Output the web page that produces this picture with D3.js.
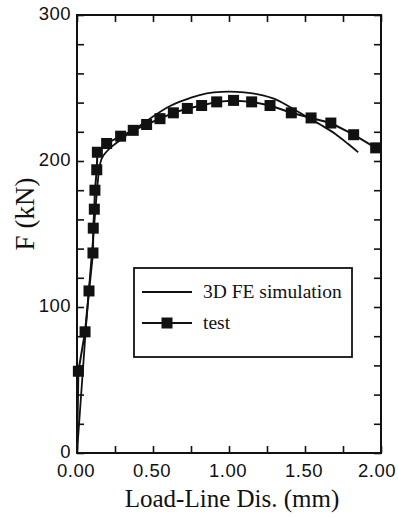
<!DOCTYPE html>
<html>
<head>
<meta charset="utf-8">
<script src="https://cdn.jsdelivr.net/npm/d3@7"></script>
<style>
  body { margin: 0; background: #fff; }
  svg { display: block; }
  .tick-label { font-family: "Liberation Sans", Arial, sans-serif; font-size: 18.5px; fill: #111; letter-spacing: 0.5px; }
  .serif { font-family: "Liberation Serif", "Times New Roman", serif; fill: #111; }
</style>
</head>
<body>
<div id="chart"></div>
<script>
// test data (mm, kN)
var testDisp  = [0.009, 0.053, 0.079, 0.105, 0.107, 0.114, 0.118, 0.130, 0.134, 0.195, 0.287, 0.370, 0.458, 0.546, 0.634, 0.726, 0.820, 0.919, 1.030, 1.149, 1.270, 1.410, 1.540, 1.670, 1.820, 1.965];
var testForce = [56, 83, 111, 137, 154, 167, 180, 194, 206, 212, 217, 221, 225, 229, 233, 236, 238, 240.5, 241.5, 240.5, 238, 233, 229.5, 226, 218, 209];

// 3D FE simulation curve
var simDisp  = [0, 0.06, 0.11, 0.13, 0.145, 0.16, 0.20, 0.28, 0.37, 0.48, 0.60, 0.70, 0.80, 0.90, 1.00, 1.10, 1.20, 1.30, 1.40, 1.50, 1.60, 1.70, 1.78, 1.85];
var simForce = [0, 88, 152, 178, 194, 201, 207, 214, 221, 229, 237, 241.5, 245, 247, 247.5, 247, 245.5, 242.5, 237, 231, 225, 218.5, 212, 206];

var xTickLabels = [0, 0.5, 1.0, 1.5, 2.0];
var yTickLabels = [0, 100, 200, 300];
var legendLabels = ["3D FE simulation", "test"];

var W = 398, H = 518;
var margin = {left: 77, right: 17, top: 15, bottom: 65};
var innerW = W - margin.left - margin.right;
var innerH = H - margin.top - margin.bottom;

var svg = d3.select('#chart').append('svg')
    .attr('width', W).attr('height', H);

var g = svg.append('g')
    .attr('transform', 'translate(' + margin.left + ',' + margin.top + ')');

var x = d3.scaleLinear().domain([0, 2]).range([0, innerW]);
var y = d3.scaleLinear().domain([0, 300]).range([innerH, 0]);

var xMinor = d3.range(0, 2.001, 0.25);
var yMinor = d3.range(0, 300.1, 20);

// inward ticks on all four sides
function styleAxis(sel){
    sel.select('.domain').remove();
    sel.selectAll('line').attr('stroke', '#111').attr('stroke-width', 1.6);
}
g.append('g').attr('transform', 'translate(0,' + innerH + ')')
    .call(d3.axisBottom(x).tickValues(xMinor).tickSize(-7).tickFormat(''))
    .call(styleAxis);
g.append('g')
    .call(d3.axisTop(x).tickValues(xMinor).tickSize(-7).tickFormat(''))
    .call(styleAxis);
g.append('g')
    .call(d3.axisLeft(y).tickValues(yMinor).tickSize(-7).tickFormat(''))
    .call(styleAxis);
g.append('g').attr('transform', 'translate(' + innerW + ',0)')
    .call(d3.axisRight(y).tickValues(yMinor).tickSize(-7).tickFormat(''))
    .call(styleAxis);

// frame
g.append('rect')
    .attr('width', innerW).attr('height', innerH)
    .attr('fill', 'none').attr('stroke', '#111').attr('stroke-width', 2);

// tick labels (last one pulled in so it stays on the page)
g.selectAll('.xl').data(xTickLabels).enter().append('text')
    .attr('class', 'tick-label')
    .attr('x', function(d, i){ return i === xTickLabels.length - 1 ? x(d) - 4 : x(d) - 1; })
    .attr('y', innerH + 24)
    .attr('text-anchor', 'middle')
    .text(function(d){ return d3.format('.2f')(d); });

g.selectAll('.yl').data(yTickLabels).enter().append('text')
    .attr('class', 'tick-label')
    .attr('x', -6)
    .attr('y', function(d){ return y(d) + 5; })
    .attr('text-anchor', 'end')
    .text(function(d){ return d; });

// axis titles
svg.append('text').attr('class', 'serif')
    .attr('x', 232).attr('y', 507)
    .attr('text-anchor', 'middle')
    .style('font-size', '25px')
    .text('Load-Line Dis. (mm)');

svg.append('text').attr('class', 'serif')
    .attr('transform', 'translate(34,214) rotate(-90)')
    .attr('text-anchor', 'middle')
    .style('font-size', '27px')
    .text('F (kN)');

var simData = simDisp.map(function(d, i){ return [d, simForce[i]]; });
var testData = testDisp.map(function(d, i){ return [d, testForce[i]]; });

// simulation curve
var simLine = d3.line()
    .x(function(d){ return x(d[0]); })
    .y(function(d){ return y(d[1]); })
    .curve(d3.curveMonotoneX);

g.append('path').datum(simData)
    .attr('d', simLine)
    .attr('fill', 'none').attr('stroke', '#111').attr('stroke-width', 1.8);

// test polyline + square markers
var testLine = d3.line()
    .x(function(d){ return x(d[0]); })
    .y(function(d){ return y(d[1]); });

g.append('path').datum([[0, 0]].concat(testData))
    .attr('d', testLine)
    .attr('fill', 'none').attr('stroke', '#111').attr('stroke-width', 2);

var ms = 11;
g.selectAll('.mk').data(testData).enter().append('rect')
    .attr('x', function(d){ return x(d[0]) - ms / 2; })
    .attr('y', function(d){ return y(d[1]) - ms / 2; })
    .attr('width', ms).attr('height', ms)
    .attr('fill', '#111');

// legend
var lg = svg.append('g').attr('transform', 'translate(134,268)');
lg.append('rect')
    .attr('width', 218).attr('height', 89)
    .attr('fill', '#fff').attr('stroke', '#111').attr('stroke-width', 1.8);
lg.append('line').attr('x1', 8).attr('x2', 58).attr('y1', 24).attr('y2', 24)
    .attr('stroke', '#111').attr('stroke-width', 1.8);
lg.append('line').attr('x1', 8).attr('x2', 58).attr('y1', 55).attr('y2', 55)
    .attr('stroke', '#111').attr('stroke-width', 2);
lg.append('rect').attr('x', 33 - 5.5).attr('y', 55 - 5.5).attr('width', 11).attr('height', 11)
    .attr('fill', '#111');
lg.selectAll('.lt').data(legendLabels).enter().append('text')
    .attr('class', 'serif')
    .attr('x', 69)
    .attr('y', function(d, i){ return i === 0 ? 30 : 61; })
    .style('font-size', '19.5px')
    .text(function(d){ return d; });
</script>
</body>
</html>
